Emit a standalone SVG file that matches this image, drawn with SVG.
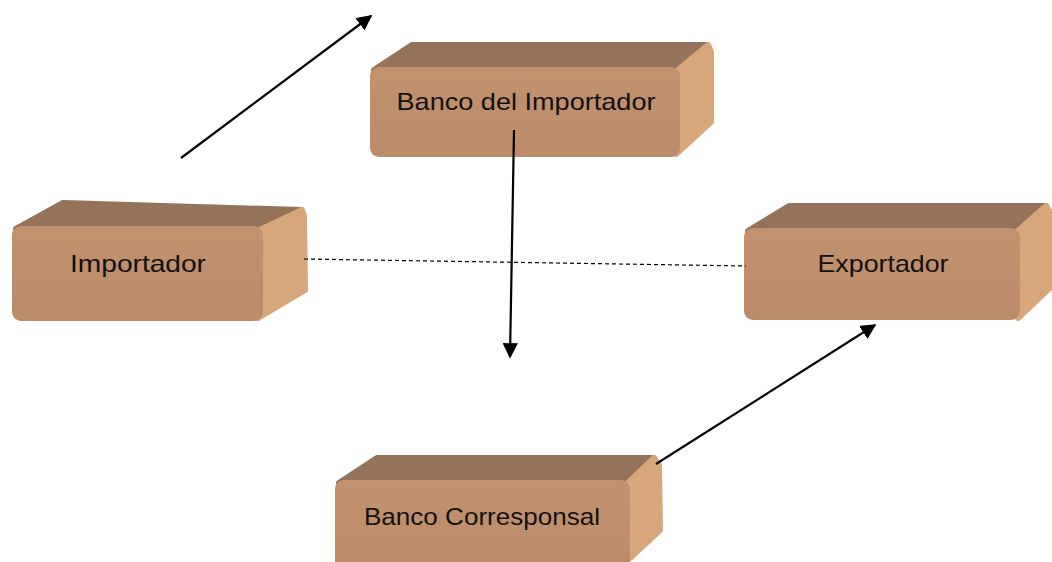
<svg xmlns="http://www.w3.org/2000/svg" width="1052" height="562" viewBox="0 0 1052 562">
<defs>
<style>
.top{fill:#94735A;stroke:#94735A;stroke-width:6;stroke-linejoin:round}
.side{fill:#D8A67B;stroke:#D8A67B;stroke-width:6;stroke-linejoin:round}
.front{fill:url(#frontG)}
.lbl{font-family:"Liberation Sans","Open Sans",sans-serif;font-size:24px;fill:#111;text-anchor:middle}
.conn{stroke:#000;stroke-width:2.2;fill:none}
</style>
<linearGradient id="frontG" x1="0" y1="0" x2="0" y2="1">
<stop offset="0" stop-color="#C2926F"/>
<stop offset="1" stop-color="#BC8C6A"/>
</linearGradient>
<marker id="ah" viewBox="0 0 10 10" refX="9" refY="5" markerWidth="7" markerHeight="7" markerUnits="strokeWidth" orient="auto">
<path d="M0,0 L10,5 L0,10 z" fill="#000"/>
</marker>
</defs>
<rect width="1052" height="562" fill="#fff"/>

<g id="banco-importador">
<polygon class="top" points="374,70 412,45 707,45 680,70"/>
<polygon class="side" points="678,70 708,45 711,52 711,122 676,154"/>
<rect class="front" x="370" y="67" width="310" height="90" rx="9"/>
<text class="lbl" x="526" y="110" textLength="259" lengthAdjust="spacingAndGlyphs">Banco del Importador</text>
</g>

<g id="importador">
<polygon class="top" points="16,229 63,203 301,210 262,230"/>
<polygon class="side" points="260,230 302,210 304,216 305,290 258,318"/>
<rect class="front" x="12" y="226" width="251" height="95" rx="9"/>
<text class="lbl" x="138" y="272" textLength="136" lengthAdjust="spacingAndGlyphs">Importador</text>
</g>

<g id="exportador">
<polygon class="top" points="748,231 789,206 1046,206 1020,231"/>
<polygon class="side" points="1018,231 1046,206 1050,212 1052,212 1052,286 1018,318"/>
<rect class="front" x="744" y="228" width="276" height="92" rx="9"/>
<text class="lbl" x="883" y="272" textLength="131" lengthAdjust="spacingAndGlyphs">Exportador</text>
</g>

<g id="banco-corresponsal">
<polygon class="top" points="339,483 377,458 654,458 630,483"/>
<polygon class="side" points="628,483 654,458 659,465 660,530 630,558"/>
<rect class="front" x="335" y="480" width="295" height="95" rx="9"/>
<text class="lbl" x="482" y="525" textLength="236" lengthAdjust="spacingAndGlyphs">Banco Corresponsal</text>
</g>

<g id="connectors">
<line class="conn" x1="181" y1="158" x2="371" y2="16" marker-end="url(#ah)"/>
<line class="conn" x1="514" y1="130" x2="510" y2="357" marker-end="url(#ah)"/>
<line class="conn" x1="656" y1="464" x2="875" y2="325" marker-end="url(#ah)"/>
<line x1="304" y1="259" x2="746" y2="266" stroke="#000" stroke-width="1.2" stroke-dasharray="4,3"/>
</g>
</svg>
